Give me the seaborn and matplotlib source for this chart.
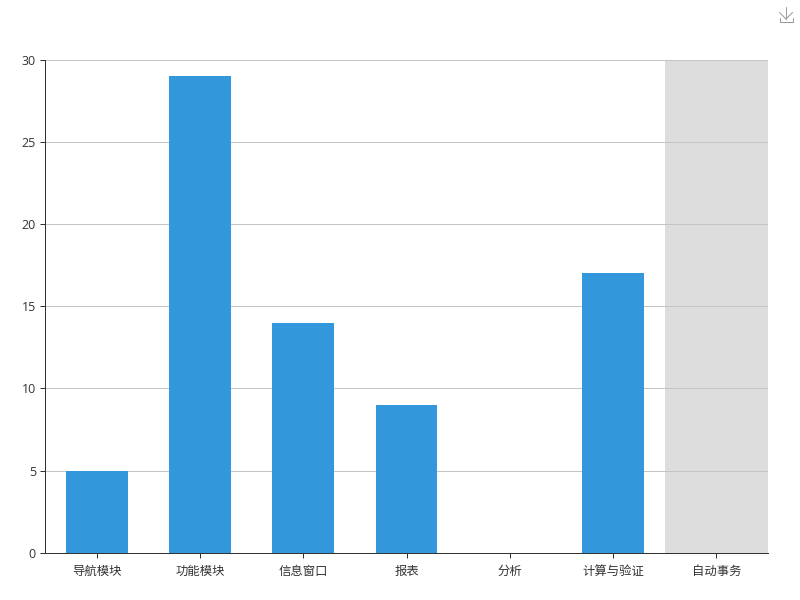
import matplotlib
matplotlib.use("Agg")
import matplotlib.pyplot as plt
from matplotlib.lines import Line2D
import pandas as pd
import seaborn as sns

categories = ["导航模块", "功能模块", "信息窗口", "报表", "分析", "计算与验证", "自动事务"]
values = [5, 29, 14, 9, 0, 17, 0]
y_ticks = [0, 5, 10, 15, 20, 25, 30]
highlight_category = "自动事务"

sns.set_theme(style="white")
plt.rcParams["font.family"] = ["Open Sans", "Noto Sans CJK SC", "DejaVu Sans"]

df = pd.DataFrame({"category": categories, "value": values})

fig = plt.figure(figsize=(8, 6), dpi=100)
ax = fig.add_axes([45.0 / 800, 1 - 552.6 / 600, 723 / 800, 492.6 / 600])

sns.barplot(data=df, x="category", y="value", color="#3398DB", saturation=1,
            width=0.6, ax=ax, zorder=3, linewidth=0)

idx = categories.index(highlight_category)
ax.axvspan(idx - 0.5, idx + 0.5, color="#DDDDDD", lw=0, zorder=1)

ax.set_xlim(-0.5, len(categories) - 0.5)
ax.set_ylim(y_ticks[0], y_ticks[-1])
ax.set_yticks(y_ticks)
ax.set_xlabel("")
ax.set_ylabel("")
ax.yaxis.grid(True, color="#C4C4C4", linewidth=0.72)
ax.xaxis.grid(False)
ax.set_axisbelow(False)
for line in ax.get_ygridlines():
    line.set_zorder(2)

sns.despine(ax=ax, top=True, right=True, left=False, bottom=False)
for side in ("left", "bottom"):
    ax.spines[side].set_color("#333333")
    ax.spines[side].set_linewidth(0.72)
    ax.spines[side].set_zorder(5)

ax.tick_params(axis="both", which="major", length=3.6, width=0.72, color="#333333",
               labelcolor="#333333", labelsize=8.9, left=True, bottom=True)
ax.tick_params(axis="x", pad=5)
ax.tick_params(axis="y", pad=3)

# Download icon, top right
icon_color = "#999999"
def px_line(xs, ys):
    fig.add_artist(Line2D([x / 800 for x in xs], [1 - y / 600 for y in ys],
                          color=icon_color, linewidth=0.72, transform=fig.transFigure))
px_line([786, 786], [7, 19])
px_line([779.5, 786, 792.5], [12.5, 19, 12.5])
px_line([779.5, 779.5, 792.5, 792.5], [17.5, 22, 22, 17.5])

fig.savefig("out.png", dpi=100)
